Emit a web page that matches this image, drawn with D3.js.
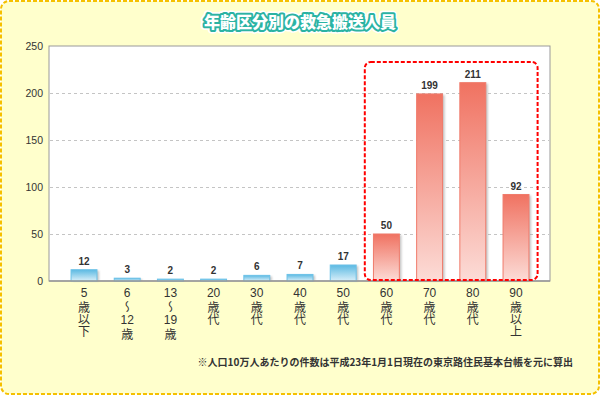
<!DOCTYPE html>
<html>
<head>
<meta charset="utf-8">
<script src="https://cdn.jsdelivr.net/npm/d3@7"></script>
<style>
  body { margin: 0; background: #fff; }
  text { font-family: "Liberation Sans", "Noto Sans CJK JP", sans-serif; }
  .jp { font-family: "Noto Sans CJK JP", sans-serif; }
  .vert { writing-mode: vertical-rl; text-orientation: upright; }
</style>
</head>
<body>
<script>
// data
var categories = ["5|歳以下", "6|〜|12|歳", "13|〜|19|歳", "20|歳代", "30|歳代", "40|歳代",
                  "50|歳代", "60|歳代", "70|歳代", "80|歳代", "90|歳以上"];
var values = [12, 3, 2, 2, 6, 7, 17, 50, 199, 211, 92];
var yTicks = [0, 50, 100, 150, 200, 250];
var highlightFrom = 7; // 60歳代 and older drawn in red

var title = "年齢区分別の救急搬送人員";
var note = "※人口10万人あたりの件数は平成23年1月1日現在の東京路住民基本台帳を元に算出";

var width = 600, height = 395;
var plot = {left: 49, right: 550, top: 46, bottom: 281};

var svg = d3.select("body").append("svg")
    .attr("width", width)
    .attr("height", height);

var defs = svg.append("defs");

function gradient(id, top, bottom){
    var g = defs.append("linearGradient")
        .attr("id", id)
        .attr("x1", 0).attr("y1", 0).attr("x2", 0).attr("y2", 1);
    g.append("stop").attr("offset", "0%").attr("stop-color", top);
    g.append("stop").attr("offset", "100%").attr("stop-color", bottom);
}
gradient("blueGrad", "#5bb9e2", "#d9eff9");
gradient("redGrad", "#f07261", "#fcdcd7");

defs.append("filter").attr("id", "blur")
    .append("feGaussianBlur").attr("stdDeviation", 0.8);

// background + dashed outer frame
svg.append("rect")
    .attr("x", 1).attr("y", 1)
    .attr("width", width - 2).attr("height", height - 2)
    .attr("rx", 8)
    .attr("fill", "#ffffcc")
    .attr("stroke", "#f5c000")
    .attr("stroke-width", 2)
    .attr("stroke-dasharray", "4,2");

// title with outline
var titleG = svg.append("g").attr("class", "jp")
    .attr("transform", "translate(300,28)");
titleG.append("text")
    .attr("text-anchor", "middle")
    .attr("font-size", 16).attr("font-weight", 900)
    .attr("fill", "#fff").attr("stroke", "#fff")
    .attr("stroke-width", 7).attr("stroke-linejoin", "round")
    .text(title);
titleG.append("text")
    .attr("text-anchor", "middle")
    .attr("font-size", 16).attr("font-weight", 900)
    .attr("fill", "#2bb3a3").attr("stroke", "#2bb3a3")
    .attr("stroke-width", 4).attr("stroke-linejoin", "round")
    .text(title);
titleG.append("text")
    .attr("text-anchor", "middle")
    .attr("font-size", 16).attr("font-weight", 900)
    .attr("fill", "#fff")
    .text(title);

// scales
var x = d3.scaleBand()
    .domain(categories)
    .range([62.4, 537.6])
    .paddingInner(0.4)
    .paddingOuter(0.2);

var y = d3.scaleLinear()
    .domain([0, 250])
    .range([plot.bottom, plot.top]);

// plot area
svg.append("rect")
    .attr("x", plot.left).attr("y", plot.top)
    .attr("width", plot.right - plot.left)
    .attr("height", plot.bottom - plot.top)
    .attr("fill", "#fff")
    .attr("stroke", "#999")
    .attr("stroke-width", 1);

// grid lines
svg.append("g")
    .selectAll("line")
    .data(yTicks.filter(function(t){ return t > 0 && t < 250; }))
    .enter().append("line")
    .attr("x1", plot.left + 1).attr("x2", plot.right - 1)
    .attr("y1", function(d){ return y(d) + 0.5; })
    .attr("y2", function(d){ return y(d) + 0.5; })
    .attr("stroke", "#c4c4c4")
    .attr("stroke-dasharray", "3,3");

// y axis labels
var yAxis = d3.axisLeft(y).tickValues(yTicks).tickSize(0).tickPadding(6);
var yg = svg.append("g")
    .attr("transform", "translate(" + plot.left + ",0)")
    .call(yAxis);
yg.select(".domain").remove();
yg.selectAll("text")
    .attr("font-size", 10.5)
    .attr("fill", "#333")
    .attr("font-family", "Liberation Sans, sans-serif");

// bars
var bars = svg.append("g");
values.forEach(function(v, i){
    var cat = categories[i];
    var bx = x(cat), bw = x.bandwidth();
    var red = i >= highlightFrom;
    // shadow
    bars.append("rect")
        .attr("x", bx + 2).attr("y", y(v) + 1)
        .attr("width", bw).attr("height", y(0) - y(v) - 1)
        .attr("fill", "#9a9a9a")
        .attr("opacity", 0.6)
        .attr("filter", "url(#blur)");
    bars.append("rect")
        .attr("x", bx).attr("y", y(v))
        .attr("width", bw).attr("height", y(0) - y(v))
        .attr("fill", red ? "url(#redGrad)" : "url(#blueGrad)")
        .attr("stroke", red ? "#f07b6b" : "#6cc2e8")
        .attr("stroke-width", 1);
    bars.append("text")
        .attr("x", bx + bw / 2)
        .attr("y", y(v) - 5)
        .attr("text-anchor", "middle")
        .attr("font-size", 10)
        .attr("font-weight", "bold")
        .attr("fill", "#333")
        .text(v);
});

// bottom axis line
svg.append("line")
    .attr("x1", plot.left).attr("x2", plot.right)
    .attr("y1", plot.bottom).attr("y2", plot.bottom)
    .attr("stroke", "#999").attr("stroke-width", 1.5);

// red dashed box around 60+
var boxLeft = x(categories[highlightFrom]) - x.step() * x.paddingInner() / 2;
var boxRight = x(categories[categories.length - 1]) + x.bandwidth() + x.step() * x.paddingInner() / 2;
svg.append("rect")
    .attr("x", boxLeft).attr("y", y(233))
    .attr("width", boxRight - boxLeft)
    .attr("height", y(0) - y(233) - 1)
    .attr("rx", 6)
    .attr("fill", "none")
    .attr("stroke", "#ff0000")
    .attr("stroke-width", 2)
    .attr("stroke-dasharray", "4,2");

// x labels: numbers horizontal, kanji runs in vertical writing
var xl = svg.append("g");
categories.forEach(function(cat){
    var cx = x(cat) + x.bandwidth() / 2;
    var cursor = 286;
    cat.split("|").forEach(function(part){
        if(/^\d+$/.test(part)){
            xl.append("text")
                .attr("x", cx).attr("y", cursor + 11)
                .attr("text-anchor", "middle")
                .attr("font-size", 12)
                .attr("fill", "#333")
                .text(part);
            cursor += 14;
        } else {
            xl.append("text")
                .attr("class", "jp vert")
                .attr("x", cx).attr("y", cursor + 1)
                .attr("font-size", 12)
                .attr("fill", "#333")
                .text(part);
            cursor += 1 + part.length * 12;
        }
    });
});

// footnote
svg.append("text")
    .attr("class", "jp")
    .attr("x", 573).attr("y", 366)
    .attr("text-anchor", "end")
    .attr("font-size", 10)
    .attr("font-weight", "bold")
    .attr("fill", "#333")
    .text(note);
</script>
</body>
</html>
